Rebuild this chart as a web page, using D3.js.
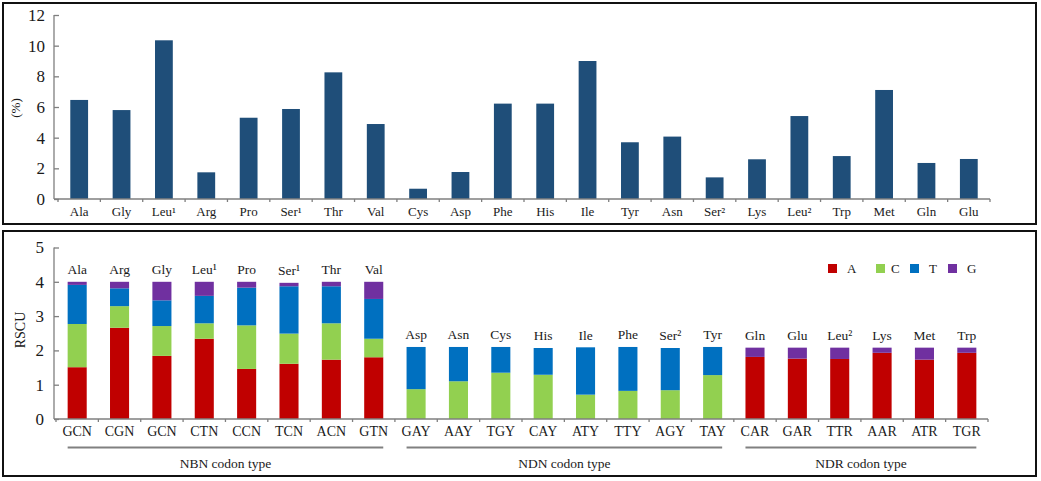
<!DOCTYPE html>
<html><head><meta charset="utf-8">
<script src="https://cdn.jsdelivr.net/npm/d3@7"></script>
<style>
html,body{margin:0;padding:0;background:#fff;}
svg text{font-family:'Liberation Serif','DejaVu Serif','Times New Roman',Times,serif !important;fill:#1a1a1a;}
</style></head>
<body><svg id="c" width="1041" height="481"></svg>
<script>
// ---- top panel data: amino acid usage (%) ----
const aaTop = ["Ala","Gly","Leu¹","Arg","Pro","Ser¹","Thr","Val","Cys","Asp","Phe","His","Ile","Tyr","Asn","Ser²","Lys","Leu²","Trp","Met","Gln","Glu"];
const usage = [6.46,5.8,10.35,1.74,5.3,5.87,8.26,4.89,0.67,1.76,6.22,6.22,9.0,3.7,4.07,1.41,2.59,5.41,2.8,7.11,2.35,2.61];
const topTicks = [0,2,4,6,8,10,12];

// ---- bottom panel data: RSCU by third-position base ----
const aaBot = ["Ala","Arg","Gly","Leu¹","Pro","Ser¹","Thr","Val","Asp","Asn","Cys","His","Ile","Phe","Ser²","Tyr","Gln","Glu","Leu²","Lys","Met","Trp"];
const codons = ["GCN","CGN","GCN","CTN","CCN","TCN","ACN","GTN","GAY","AAY","TGY","CAY","ATY","TTY","AGY","TAY","CAR","GAR","TTR","AAR","ATR","TGR"];
const rA = [1.51,2.66,1.84,2.34,1.46,1.61,1.73,1.80, 0,0,0,0,0,0,0,0, 1.81,1.76,1.75,1.93,1.73,1.93];
const rC = [1.26,0.63,0.87,0.45,1.27,0.88,1.06,0.54, 0.87,1.10,1.35,1.29,0.71,0.82,0.84,1.28, 0,0,0,0,0,0];
const rT = [1.14,0.52,0.75,0.80,1.10,1.38,1.08,1.16, 1.23,1.00,0.75,0.78,1.38,1.28,1.23,0.82, 0,0,0,0,0,0];
const rG = [0.09,0.19,0.54,0.41,0.17,0.10,0.13,0.50, 0,0,0,0,0,0,0,0, 0.27,0.32,0.33,0.15,0.35,0.15];
const bases = ["A","C","T","G"];
const baseColors = ["#C00000","#92D050","#0070C0","#7030A0"];
const groups = [{name:"NBN codon type",from:0,to:7},{name:"NDN codon type",from:8,to:15},{name:"NDR codon type",from:16,to:21}];
const botTicks = [0,1,2,3,4,5];

const FONT = "'Liberation Serif','DejaVu Serif','Times New Roman',Times,serif";
const svg = d3.select("#c");
const axisColor = "#7f7f7f";

// panel frames
svg.append("rect").attr("x",3).attr("y",3).attr("width",1033).attr("height",221)
  .attr("fill","none").attr("stroke","#111").attr("stroke-width",2);
svg.append("rect").attr("x",3).attr("y",231).attr("width",1033).attr("height",245)
  .attr("fill","none").attr("stroke","#111").attr("stroke-width",2);

// ================= TOP PANEL =================
const yAxisX = 54;
const xT = d3.scaleBand().domain(aaTop).range([58,990]).paddingInner(0.58).paddingOuter(0.29);
const yT = d3.scaleLinear().domain([0,12]).range([199,15]);
const gT = svg.append("g").attr("font-family",FONT);

gT.selectAll("rect.bar").data(aaTop).join("rect")
  .attr("x",d=>xT(d)).attr("width",xT.bandwidth())
  .attr("y",(d,i)=>yT(usage[i])).attr("height",(d,i)=>yT(0)-yT(usage[i]))
  .attr("fill","#1F4E79");

// y axis
const yAxT = gT.append("g").attr("transform",`translate(${yAxisX},0)`)
  .call(d3.axisLeft(yT).tickValues(topTicks).tickSize(-5).tickPadding(9).tickFormat(d3.format("d")));
yAxT.attr("font-family",FONT);
yAxT.selectAll("path,line").attr("stroke",axisColor).attr("stroke-width",1.3);
yAxT.select(".domain").attr("d",`M-0,${yT(12)}V${yT(0)}`);
yAxT.selectAll("text").attr("font-size",17).attr("fill","#1a1a1a");

// x axis
const stepT = xT.step();
gT.append("line").attr("x1",yAxisX).attr("x2",990).attr("y1",yT(0)).attr("y2",yT(0))
  .attr("stroke",axisColor).attr("stroke-width",1.5);
gT.selectAll("line.tk").data(d3.range(aaTop.length+1)).join("line")
  .attr("x1",i=>58+i*stepT).attr("x2",i=>58+i*stepT)
  .attr("y1",yT(0)).attr("y2",yT(0)+3).attr("stroke",axisColor).attr("stroke-width",1.3);
gT.selectAll("text.xl").data(aaTop).join("text")
  .attr("x",d=>xT(d)+xT.bandwidth()/2).attr("y",216)
  .attr("text-anchor","middle").attr("font-size",13).text(d=>d);

gT.append("text").attr("transform","translate(20,108) rotate(-90)")
  .attr("text-anchor","middle").attr("font-size",13).text("(%)");

// ================= BOTTOM PANEL =================
const xB = d3.scaleBand().domain(d3.range(aaBot.length)).range([56,988]).paddingInner(0.55).paddingOuter(0.275);
const yB = d3.scaleLinear().domain([0,5]).range([419,247.5]);
const gB = svg.append("g").attr("font-family",FONT);

const rows = aaBot.map((aa,i)=>({i, A:rA[i], C:rC[i], T:rT[i], G:rG[i]}));
const stacked = d3.stack().keys(bases)(rows);

gB.selectAll("g.layer").data(stacked).join("g")
  .attr("fill",(d,k)=>baseColors[k])
  .selectAll("rect").data(d=>d.filter(p=>p[1]-p[0]>0)).join("rect")
  .attr("x",p=>xB(p.data.i)).attr("width",xB.bandwidth())
  .attr("y",p=>yB(p[1])).attr("height",p=>yB(p[0])-yB(p[1]));

// y axis
const yAxB = gB.append("g").attr("transform",`translate(${yAxisX},0)`)
  .call(d3.axisLeft(yB).tickValues(botTicks).tickSize(-5).tickPadding(10).tickFormat(d3.format("d")));
yAxB.attr("font-family",FONT);
yAxB.selectAll("path,line").attr("stroke",axisColor).attr("stroke-width",1.3);
yAxB.select(".domain").attr("d",`M-0,${yB(5)}V${yB(0)}`);
yAxB.selectAll("text").attr("font-size",17).attr("fill","#1a1a1a");

// x axis
const stepB = xB.step();
gB.append("line").attr("x1",yAxisX).attr("x2",988).attr("y1",yB(0)).attr("y2",yB(0))
  .attr("stroke",axisColor).attr("stroke-width",1.5);
gB.selectAll("line.tk").data(d3.range(aaBot.length+1)).join("line")
  .attr("x1",i=>56+i*stepB).attr("x2",i=>56+i*stepB)
  .attr("y1",yB(0)).attr("y2",yB(0)+3).attr("stroke",axisColor).attr("stroke-width",1.3);

// codon labels
gB.selectAll("text.cd").data(codons).join("text")
  .attr("x",(d,i)=>xB(i)+xB.bandwidth()/2).attr("y",436)
  .attr("text-anchor","middle").attr("font-size",14).text(d=>d);

// amino acid labels above bars
gB.selectAll("text.aa").data(rows).join("text")
  .attr("x",r=>xB(r.i)+xB.bandwidth()/2)
  .attr("y",r=>yB(r.A+r.C+r.T+r.G)-7.5)
  .attr("text-anchor","middle").attr("font-size",13.5).text(r=>aaBot[r.i]);

// group lines and titles
groups.forEach(g=>{
  const x1 = xB(g.from), x2 = xB(g.to)+xB.bandwidth();
  gB.append("line").attr("x1",x1).attr("x2",x2).attr("y1",447.5).attr("y2",447.5)
    .attr("stroke","#808080").attr("stroke-width",2);
  gB.append("text").attr("x",(x1+x2)/2).attr("y",468).attr("text-anchor","middle")
    .attr("font-size",13.5).text(g.name);
});

gB.append("text").attr("transform","translate(25,330) rotate(-90)")
  .attr("text-anchor","middle").attr("font-size",14).text("RSCU");

// legend
const legX = [828,876,910,948];
const leg = gB.selectAll("g.leg").data(bases).join("g")
  .attr("transform",(d,k)=>`translate(${legX[k]},264)`);
leg.append("rect").attr("width",9).attr("height",9).attr("fill",(d,k)=>baseColors[k]);
leg.append("text").attr("x",(d,k)=>[19,15,19,19][k]).attr("y",9).attr("font-size",13).text(d=>d);
</script></body></html>
